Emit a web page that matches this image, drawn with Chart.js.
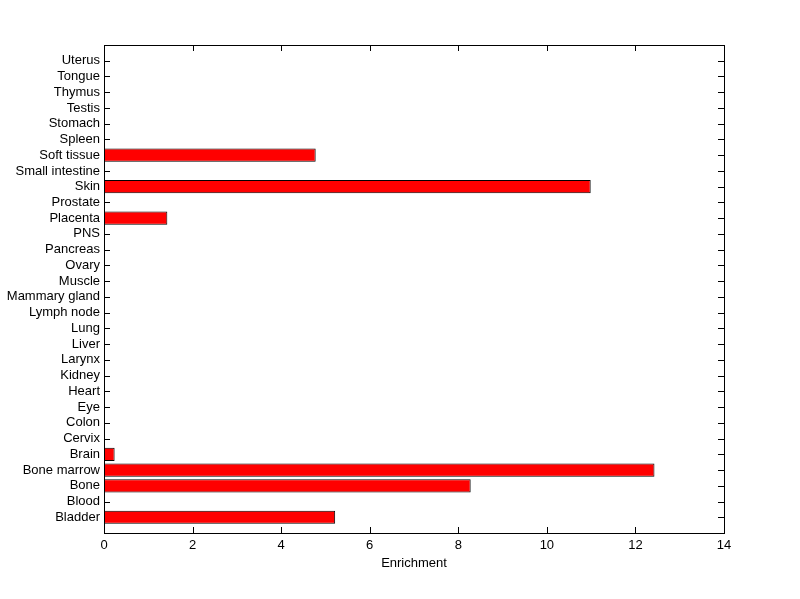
<!DOCTYPE html>
<html>
<head>
<meta charset="utf-8">
<script src="https://cdn.jsdelivr.net/npm/chart.js@4"></script>
<style>
  body { margin: 0; background: #fff; }
  canvas { display: block; }
</style>
</head>
<body>
<canvas id="grafico" width="800" height="599"></canvas>
<script>
// categories from bottom to top
const tejidos = ['Bladder', 'Blood', 'Bone', 'Bone marrow', 'Brain', 'Cervix', 'Colon', 'Eye',
  'Heart', 'Kidney', 'Larynx', 'Liver', 'Lung', 'Lymph node', 'Mammary gland', 'Muscle',
  'Ovary', 'Pancreas', 'PNS', 'Placenta', 'Prostate', 'Skin', 'Small intestine', 'Soft tissue',
  'Spleen', 'Stomach', 'Testis', 'Thymus', 'Tongue', 'Uterus'];
const enriquecimiento = [5.22, 0, 8.28, 12.43, 0.24, 0, 0, 0,
  0, 0, 0, 0, 0, 0, 0, 0,
  0, 0, 0, 1.43, 0, 10.99, 0, 4.78,
  0, 0, 0, 0, 0, 0];
const ticksX = [0, 2, 4, 6, 8, 10, 12, 14];

const fuente = { family: 'Liberation Sans, Arial, sans-serif', size: 13 };

// inward tick marks on all four sides, drawn under the bars
const marcas = {
  id: 'marcas',
  beforeDatasetsDraw(chart) {
    const c = chart.ctx, a = chart.chartArea;
    const sx = chart.scales.x, sy = chart.scales.y;
    const L = 6;
    c.save();
    c.strokeStyle = '#000';
    c.lineWidth = 1;
    c.beginPath();
    ticksX.forEach(v => {
      const px = Math.round(sx.getPixelForValue(v)) + 0.5;
      c.moveTo(px, a.bottom); c.lineTo(px, a.bottom - L);
      c.moveTo(px, a.top); c.lineTo(px, a.top + L);
    });
    tejidos.forEach((t, i) => {
      const py = Math.round(sy.getPixelForValue(i + 1)) + 0.5;
      c.moveTo(a.left, py); c.lineTo(a.left + L, py);
      c.moveTo(a.right, py); c.lineTo(a.right - L, py);
    });
    c.stroke();
    c.restore();
  },
  afterDatasetsDraw(chart) {
    const c = chart.ctx, a = chart.chartArea;
    c.save();
    c.strokeStyle = '#000';
    c.lineWidth = 1;
    c.strokeRect(Math.round(a.left) + 0.5, Math.round(a.top) + 0.5,
      Math.round(a.right - a.left), Math.round(a.bottom - a.top));
    c.restore();
  }
};

const ctx = document.getElementById('grafico').getContext('2d');
new Chart(ctx, {
  type: 'bar',
  data: {
    datasets: [{
      label: 'Enrichment',
      data: enriquecimiento.map((v, i) => ({ x: v, y: i + 1 })),
      backgroundColor: '#ff0000',
      borderColor: '#000',
      borderWidth: 1,
      borderSkipped: false,
      barPercentage: 0.84,
      categoryPercentage: 1
    }]
  },
  options: {
    indexAxis: 'y',
    responsive: false,
    animation: false,
    layout: { padding: { top: 45, right: 76, left: 0, bottom: 0 } },
    plugins: { legend: { display: false }, tooltip: { enabled: false } },
    scales: {
      x: {
        type: 'linear',
        min: 0, max: 14,
        afterBuildTicks: s => { s.ticks = ticksX.map(v => ({ value: v })); },
        afterFit: s => { s.height = 66; },
        grid: { display: false, drawTicks: false },
        border: { display: false },
        ticks: { color: '#000', font: fuente, padding: 5, maxRotation: 0 },
        title: { display: true, text: 'Enrichment', color: '#000', font: fuente, padding: { top: 3, bottom: 28 } }
      },
      y: {
        type: 'linear',
        offset: false,
        min: 0, max: 31,
        afterBuildTicks: s => { s.ticks = tejidos.map((t, i) => ({ value: i + 1 })); },
        afterFit: s => { s.width = 104; },
        grid: { display: false, drawTicks: false, offset: false },
        border: { display: false },
        ticks: {
          color: '#000', font: fuente, padding: 4, autoSkip: false,
          callback: v => tejidos[v - 1] || ''
        }
      }
    }
  },
  plugins: [marcas]
});
</script>
</body>
</html>
